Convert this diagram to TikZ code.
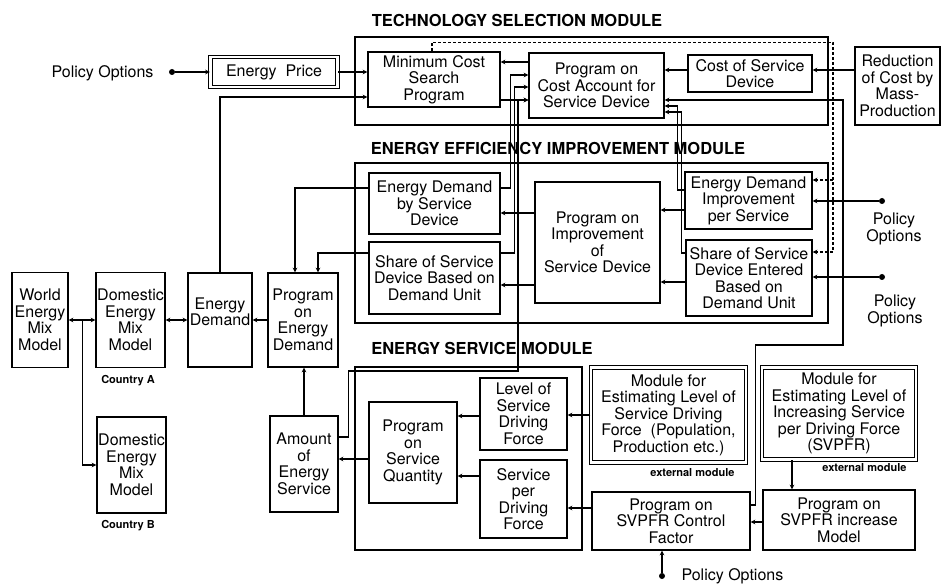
\documentclass[tikz,border=0pt]{standalone}
\usepackage{fontspec}
\setmainfont{TeX Gyre Heros}
\usetikzlibrary{shapes.geometric, arrows}

\begin{document}
\begin{tikzpicture}[x=1pt,y=-1pt]
\tikzstyle{block} = [rectangle, draw=black, line width=1.2pt, align=center, inner sep=1pt, font=\fontsize{16}{16.5}\selectfont]
\tikzstyle{extmodule} = [block, double, double distance=2.5pt]
\tikzstyle{frame} = [rectangle, draw=black, line width=1.2pt, inner sep=0pt]
\tikzstyle{title} = [font=\bfseries\fontsize{16.5}{18}\selectfont]
\tikzstyle{note} = [font=\bfseries\fontsize{11}{12}\selectfont]
\tikzstyle{txt} = [align=center, font=\fontsize{16}{16.5}\selectfont]
\tikzstyle{dot} = [circle, fill=black, inner sep=0pt, minimum size=6pt]
\tikzstyle{arrow} = [line width=1.1pt,->,>=stealth]

\useasboundingbox (0,0) rectangle (942,585);

% module frames
\node (tsm) [frame, minimum width=473pt, minimum height=88pt] at (591.5,81) {};
\node (eim) [frame, minimum width=473pt, minimum height=160pt] at (591.5,243) {};
\node (esm) [frame, minimum width=227pt, minimum height=183pt] at (468.5,458.5) {};
\node (tsmtitle) [title] at (517,20) {TECHNOLOGY SELECTION MODULE};
\node (eimtitle) [title] at (558,148) {ENERGY EFFICIENCY IMPROVEMENT MODULE};
\node (esmtitle) [title] at (482,348) {ENERGY SERVICE MODULE};

% technology selection
\node (price) [extmodule, minimum width=127pt, minimum height=30pt] at (274,72) {Energy~~Price};
\node (mincost) [block, minimum width=132pt, minimum height=55pt] at (434,79.5) {Minimum Cost\\Search\\Program};
\node (pca) [block, minimum width=135pt, minimum height=65pt] at (596.5,85.5) {Program on\\Cost Account for\\Service Device};
\node (csd) [block, minimum width=124pt, minimum height=37pt] at (750,73.5) {Cost of Service\\Device};
\node (mass) [block, minimum width=85pt, minimum height=78pt] at (897.5,86) {Reduction\\of Cost by\\Mass-\\Production};

% energy efficiency improvement
\node (eds) [block, minimum width=131pt, minimum height=61pt] at (434.5,203.5) {Energy Demand\\by Service\\Device};
\node (ssd) [block, minimum width=131pt, minimum height=72pt] at (434.5,278) {Share of Service\\Device Based on\\Demand Unit};
\node (pisd) [block, minimum width=125pt, minimum height=121pt] at (597.5,242.5) {Program on\\Improvement\\of\\Service Device};
\node (edi) [block, minimum width=127pt, minimum height=57pt] at (748.5,200.5) {Energy Demand\\Improvement\\per Service};
\node (ssde) [block, minimum width=126pt, minimum height=76pt] at (749,278) {Share of Service\\Device Entered\\Based on\\Demand Unit};

% energy mix chain
\node (world) [block, minimum width=56pt, minimum height=95pt] at (40,320) {World\\Energy\\Mix\\Model};
\node (doma) [block, minimum width=69pt, minimum height=95pt] at (130.5,320) {Domestic\\Energy\\Mix\\Model};
\node (demand) [block, minimum width=64pt, minimum height=94pt] at (220,320) {Energy\\Demand\\~};
\node (ped) [block, minimum width=70pt, minimum height=94pt] at (303,320) {Program\\on\\Energy\\Demand};
\node (domb) [block, minimum width=69pt, minimum height=96pt] at (131.5,465) {Domestic\\Energy\\Mix\\Model};
\node (aes) [block, minimum width=68pt, minimum height=96pt] at (304,464) {Amount\\of\\Energy\\Service};
\node (cntrya) [note] at (128,381) {Country A};
\node (cntryb) [note] at (128,526) {Country B};

% energy service
\node (psq) [block, minimum width=88pt, minimum height=101pt] at (413,452.5) {Program\\on\\Service\\Quantity};
\node (lsdf) [block, minimum width=87pt, minimum height=72pt] at (523.5,414) {Level of\\Service\\Driving\\Force};
\node (spdf) [block, minimum width=87pt, minimum height=78pt] at (523.5,499) {Service\\per\\Driving\\Force};
\node (esdf) [extmodule, minimum width=155pt, minimum height=95pt] at (668.5,415) {Module for\\Estimating Level of\\Service Driving\\Force~~(Population,\\Production etc.)};
\node (svm) [extmodule, minimum width=154pt, minimum height=92pt] at (839,413.5) {Module for\\Estimating Level of\\Increasing Service\\per Driving Force\\(SVPFR)};
\node (ext1) [note, anchor=east] at (738,473) {external module};
\node (ext2) [note, anchor=east] at (910,468) {external module};
\node (pscf) [block, minimum width=158pt, minimum height=58pt] at (671,521) {Program on\\SVPFR Control\\Factor};
\node (psim) [block, minimum width=152pt, minimum height=60pt] at (839,520) {Program on\\SVPFR increase\\Model};

% policy options
\node (pol1) [dot] at (172,72) {};
\node (pol1txt) [txt, anchor=east] at (157,73) {Policy Options};
\node (pol2) [dot] at (882,201) {};
\node (pol2txt) [txt] at (894,229) {Policy\\Options};
\node (pol3) [dot] at (882,277) {};
\node (pol3txt) [txt] at (895,311) {Policy\\Options};
\node (pol4) [dot] at (662,576) {};
\node (pol4txt) [txt, anchor=west] at (678,576) {Policy Options};

% technology selection links
\draw [arrow] (pol1) -- (price.west);
\draw [arrow] (price.east) -- (price.east -| mincost.west);
\draw [arrow] (demand.north) |- (mincost.west |- 0,97);
\draw [arrow] (pca.west |- 0,62) -- (mincost.east |- 0,62);
\draw [arrow] (mincost.east |- 0,100) -- (pca.west |- 0,100);
\draw [arrow] (csd.west |- 0,70) -- (pca.east |- 0,70);
\draw [arrow] (mass.west |- 0,70) -- (csd.east |- 0,70);
\draw [arrow] (eds.east |- 0,188) -- ++(10,0) |- (pca.west |- 0,75);
\draw [arrow] (ssd.east |- 0,253) -- ++(14,0) |- (pca.west |- 0,87);
\draw [arrow] (aes.east |- 0,437) -- ++(10,0) |- (518,371) |- (pca.west |- 0,100);
\draw [arrow] (edi.west |- 0,190) -- ++(-7,0) |- (pca.east |- 0,106);
\draw [arrow] (ssde.west |- 0,253) -- ++(-4,0) |- (pca.east |- 0,112);
\draw [arrow] (pscf.east |- 0,505) -- ++(5,0) |- (843,345) |- (pca.east |- 0,100);
\draw [arrow, densely dashed] (mincost.north -| 432,0) -- ++(0,-9) -| (833,252) -- (ssde.east |- 0,252);
\draw [arrow, densely dashed] (833,180) -- (edi.east |- 0,180);

% energy efficiency links
\draw [arrow] (pol2) -- (edi.east |- pol2);
\draw [arrow] (pol3) -- (ssde.east |- pol3);
\draw [arrow] (pisd.west |- 0,213) -- (eds.east |- 0,213);
\draw [arrow] (pisd.west |- 0,285) -- (ssd.east |- 0,285);
\draw [arrow] (edi.west |- 0,210) -- (pisd.east |- 0,210);
\draw [arrow] (ssde.west |- 0,282) -- (pisd.east |- 0,282);
\draw [arrow] (eds.west |- 0,188) -| ([xshift=-8pt]ped.north);
\draw [arrow] (ssd.west |- 0,253) -| ([xshift=15pt]ped.north);

% energy mix links
\draw [arrow] (ped) -- (demand);
\draw [arrow, <->] (doma) -- (demand);
\draw [arrow, <->] (world) -- (doma);
\draw [arrow] (world.east) ++(14,0) |- (domb.west);
\draw [arrow] (aes.north) -- (aes.north |- ped.south);
\draw [arrow] (psq.west |- 0,459) -- (aes.east |- 0,459);

% energy service links
\draw [arrow] (lsdf.west |- 0,416) -- (psq.east |- 0,416);
\draw [arrow] (spdf.west |- 0,476) -- (psq.east |- 0,476);
\draw [arrow] (esdf.west |- 0,415) -- (lsdf.east |- 0,415);
\draw [arrow] (pscf.west |- 0,508) -- (spdf.east |- 0,508);
\draw [arrow] (svm.south -| 792,0) -- (psim.north -| 792,0);
\draw [arrow] (psim.west |- 0,522) -- (pscf.east |- 0,522);
\draw [arrow] (pol4) -- (pol4 |- pscf.south);
\end{tikzpicture}
\end{document}
